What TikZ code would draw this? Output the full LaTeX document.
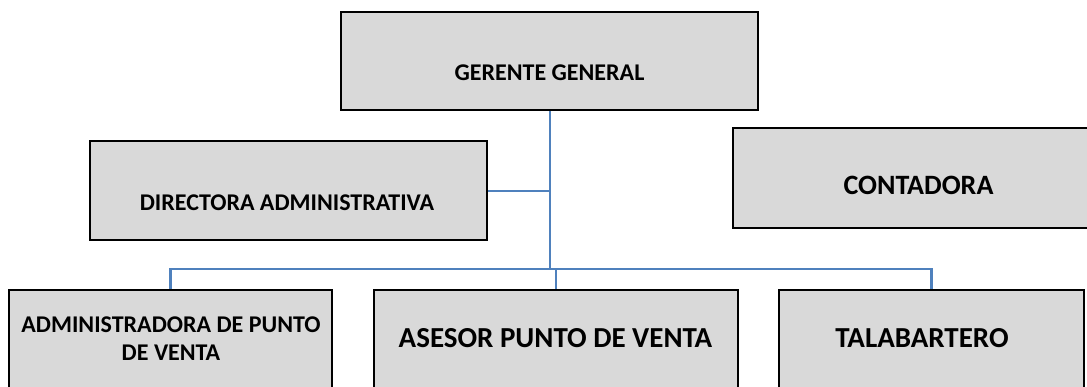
\documentclass[tikz,border=0pt]{standalone}
\usepackage{fontspec}
\setmainfont{Carlito}
\begin{document}
\begin{tikzpicture}[x=1pt,y=-1pt,
  box/.style={draw=black,line width=2pt,fill=boxgray,inner sep=0pt},
  lbl/.style={font=\bfseries,anchor=base,inner sep=0pt,align=center},
  conn/.style={draw=linkblue,line width=2.4pt}]
\definecolor{boxgray}{HTML}{D9D9D9}
\definecolor{linkblue}{HTML}{4F81BD}
\useasboundingbox (0,0) rectangle (1087,387);
% boxes
\node[box,minimum width=417pt,minimum height=98pt] (gg) at (549.5,61) {};
\node[box,minimum width=397pt,minimum height=99pt] (da) at (288.5,191) {};
\node[box,minimum width=360pt,minimum height=100pt] (ct) at (913,178) {};
\node[box,minimum width=323pt,minimum height=110pt] (ap) at (170.5,345) {};
\node[box,minimum width=364pt,minimum height=110pt] (as) at (556,345) {};
\node[box,minimum width=305pt,minimum height=110pt] (tb) at (931.5,345) {};
% labels
\node[lbl,font=\bfseries\fontsize{24}{26}\selectfont] (tgg) at (549.5,81) {GERENTE GENERAL};
\node[lbl,font=\bfseries\fontsize{24}{26}\selectfont] (tda) at (287,211) {DIRECTORA ADMINISTRATIVA};
\node[lbl,font=\bfseries\fontsize{28}{30}\selectfont] (tct) at (918.5,195) {CONTADORA};
\node[lbl,font=\bfseries\fontsize{29}{31}\selectfont] (tas) at (555.5,348) {ASESOR PUNTO DE VENTA};
\node[lbl,font=\bfseries\fontsize{29}{31}\selectfont] (ttb) at (922,348) {TALABARTERO};
\node[lbl,font=\bfseries\fontsize{24}{26}\selectfont] (tap1) at (171,333) {ADMINISTRADORA DE PUNTO};
\node[lbl,font=\bfseries\fontsize{24}{26}\selectfont] (tap2) at (171,360) {DE VENTA};
% connectors
\coordinate (hub) at (550,269);
\coordinate (jda) at (550,191);
\draw[conn] (gg.south -| hub) -- (hub);
\draw[conn] (da.east |- jda) -- (jda);
\draw[conn] (ap.north) |- (hub);
\draw[conn] (tb.north) |- (hub);
\draw[conn] (as.north) -- (as.north |- hub);
\end{tikzpicture}
\end{document}
